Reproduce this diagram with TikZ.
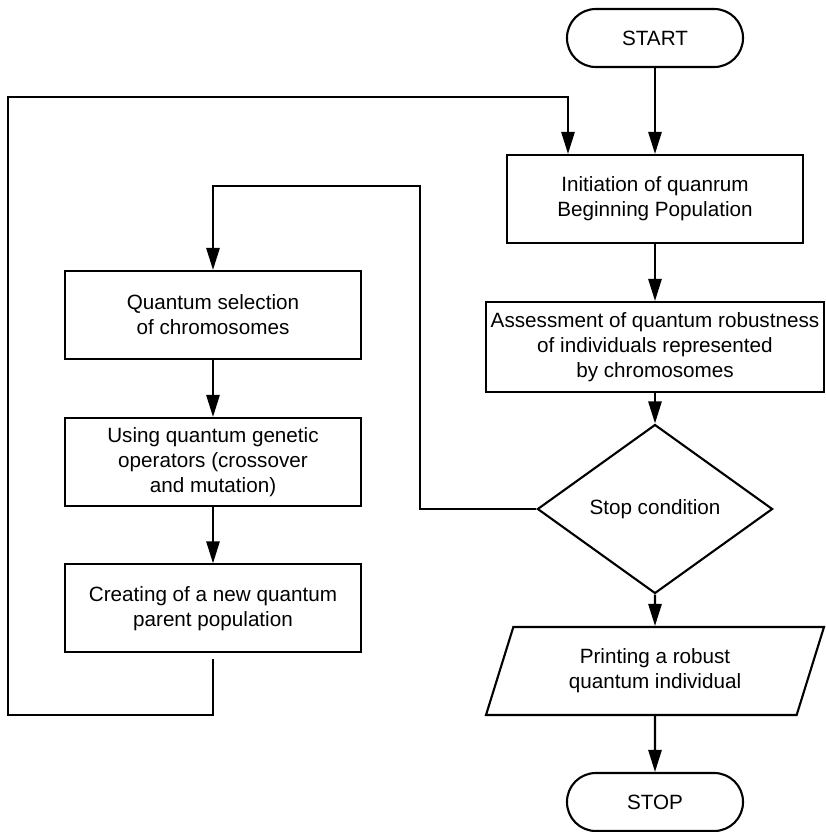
\documentclass[tikz,border=0pt]{standalone}
\usepackage{fontspec}
\setmainfont{Liberation Sans}
\usetikzlibrary{arrows.meta, shapes.geometric, calc}
\newcommand{\qfont}{\fontsize{14.7pt}{17.8pt}\selectfont}
\tikzset{
  term/.style={rectangle, draw, rounded corners=7.2mm, minimum width=4.4cm,
               minimum height=1.45cm, line width=1.5pt, font=\qfont},
  box/.style={rectangle, draw, minimum width=7.42cm, minimum height=2.2cm,
              line width=1.5pt, align=center, font=\qfont},
  wbox/.style={box, minimum width=8.4cm, minimum height=2.25cm},
  cond/.style={diamond, draw, minimum width=5.88cm, minimum height=2.93cm,
               line width=1.5pt, font=\qfont},
  io/.style={trapezium, draw, trapezium left angle=63, trapezium right angle=117,
             trapezium stretches body, minimum width=8.45cm, minimum height=2.2cm,
             line width=1.5pt, align=center, font=\qfont},
  arc/.style={-{Triangle[length=5.5mm, width=3.3mm]}, line width=1.5pt}
}

\begin{document}
\begin{tikzpicture}
  \useasboundingbox (0,0) rectangle (20.625,-20.8);
  % main column
  \node[term] (start) at (16.375,-0.95) {START};
  \node[box] (init) at (16.375,-4.975) {Initiation of quanrum\\Beginning Population};
  \node[wbox] (eval) at (16.375,-8.675) {Assessment of quantum robustness\\of individuals represented\\by chromosomes};
  \node[cond] (stopc) at (16.375,-12.725) {Stop condition};
  \node[io] (prt) at (16.375,-16.775) {Printing a robust\\quantum individual};
  \node[term] (stop) at (16.375,-20.05) {STOP};
  % loop column
  \node[box] (sel) at (5.325,-7.875) {Quantum selection\\of chromosomes};
  \node[box] (ops) at (5.325,-11.55) {Using quantum genetic\\operators (crossover\\and mutation)};
  \node[box] (newp) at (5.325,-15.21) {Creating of a new quantum\\parent population};
  \coordinate (lowleft) at (0.2,-17.875);
  \coordinate (topc) at (14.2,-2.425);
  \coordinate (midtop) at (10.5,-4.65);

  \draw[arc] (start) -- (init);
  \draw[arc] (init) -- (eval);
  \draw[arc] (eval) -- (stopc);
  \draw[arc] (stopc) -- (prt);
  \draw[arc] (prt) -- (stop);
  \draw[arc] (sel) -- (ops);
  \draw[arc] (ops) -- (newp);
  \draw[arc] (stopc.west) -| (midtop) -| (sel.north);
  \draw[arc, shorten <=1.5mm] (newp.south) |- (lowleft) |- (topc) -- (topc |- init.north);
\end{tikzpicture}
\end{document}
